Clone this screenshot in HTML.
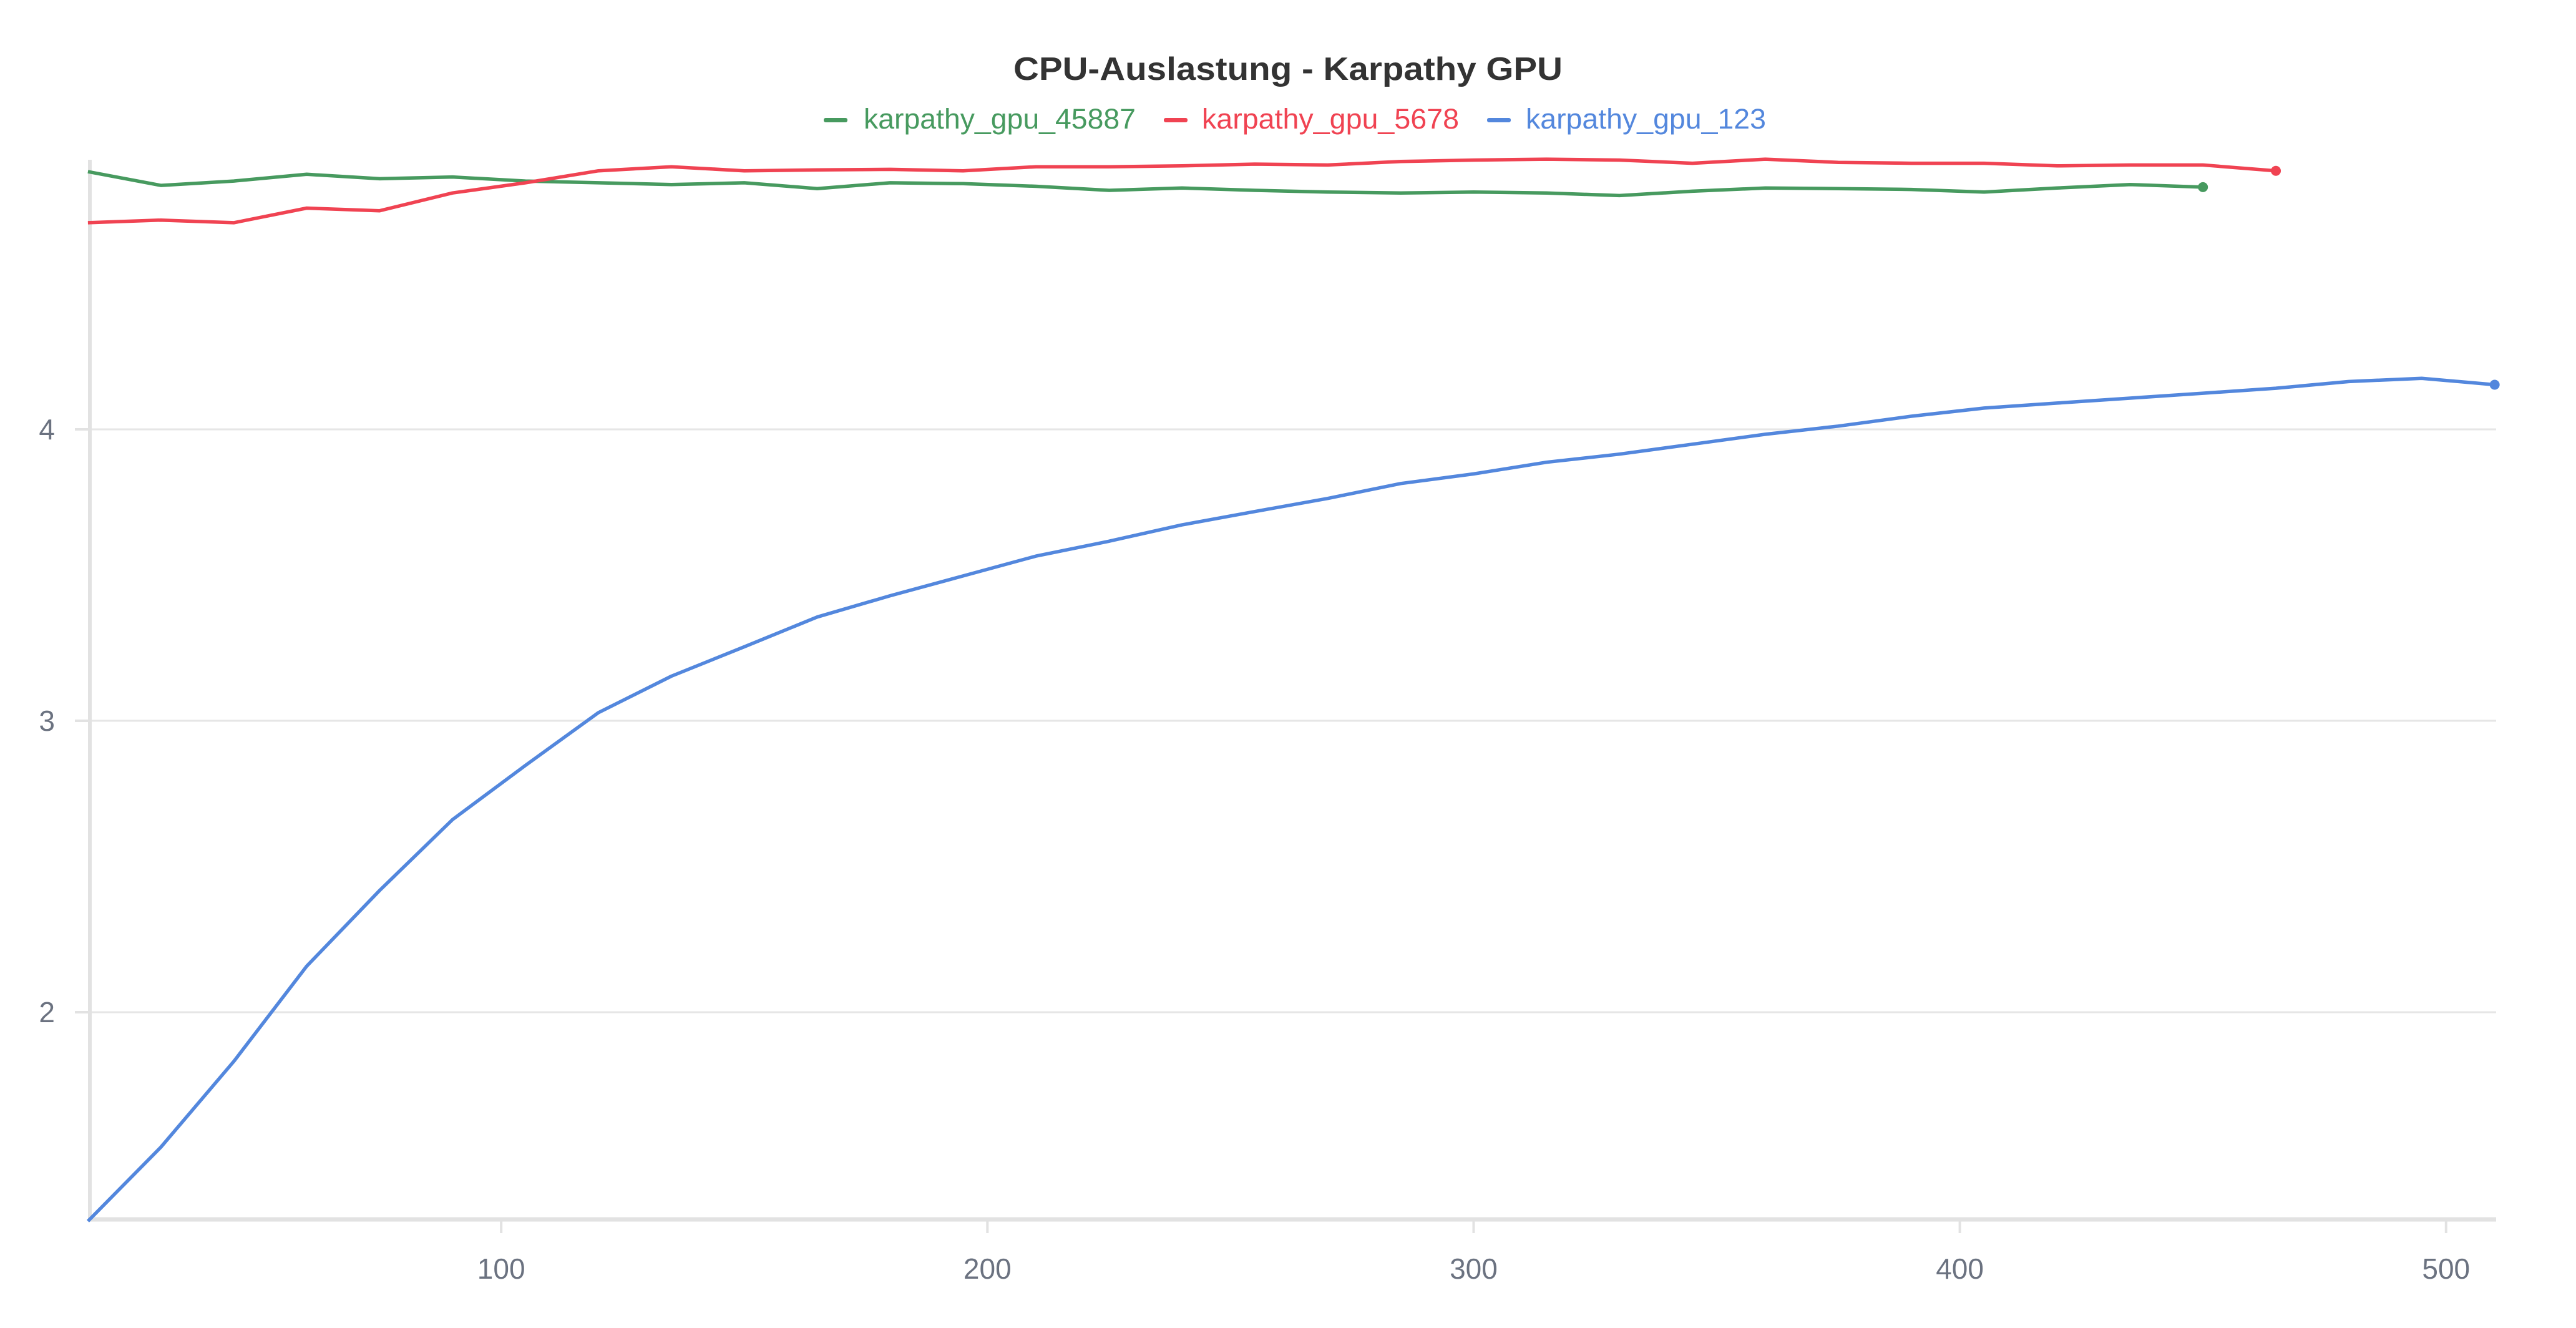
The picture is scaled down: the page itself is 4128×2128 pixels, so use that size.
<!DOCTYPE html>
<html><head><meta charset="utf-8"><style>
html,body{margin:0;padding:0;background:#fff;width:4128px;height:2128px;overflow:hidden}
svg{display:block}
</style></head><body>
<svg id="chart" width="4128" height="2128" xmlns="http://www.w3.org/2000/svg" font-family="'Liberation Sans', sans-serif">
<text x="2064" y="128" text-anchor="middle" font-size="52" font-weight="bold" fill="#333" textLength="880" lengthAdjust="spacingAndGlyphs">CPU-Auslastung - Karpathy GPU</text>
<g transform="translate(-24,0)">
<g><rect x="1344" y="189" width="38" height="7" rx="3" fill="#479a5f"/><text x="1408" y="206" font-size="45" fill="#479a5f" textLength="436" lengthAdjust="spacingAndGlyphs">karpathy_gpu_45887</text></g>
<g><rect x="1889" y="189" width="38" height="7" rx="3" fill="#f04352"/><text x="1950" y="206" font-size="45" fill="#f04352" textLength="412" lengthAdjust="spacingAndGlyphs">karpathy_gpu_5678</text></g>
<g><rect x="2407" y="189" width="38" height="7" rx="3" fill="#5387dd"/><text x="2469" y="206" font-size="45" fill="#5387dd" textLength="385" lengthAdjust="spacingAndGlyphs">karpathy_gpu_123</text></g>
</g>
<g id="grid"></g>
<g id="axes"></g>
<g id="series"></g>
</svg>
<script>
const xSteps = [15,30,45,60,75,90,105,120,135,150,165,180,195,210,225,240,255,270,285,300,315,330,345,360,375,390,405,420,435,450,465,480,495,510];
const green45887 = [4.884,4.837,4.852,4.875,4.860,4.866,4.852,4.846,4.840,4.846,4.826,4.846,4.843,4.834,4.820,4.828,4.820,4.814,4.811,4.814,4.811,4.802,4.817,4.828,4.826,4.823,4.814,4.828,4.840,4.831];
const red5678 = [4.709,4.718,4.709,4.759,4.750,4.811,4.846,4.887,4.901,4.887,4.890,4.892,4.887,4.901,4.901,4.904,4.910,4.907,4.919,4.924,4.927,4.924,4.913,4.927,4.916,4.913,4.913,4.904,4.907,4.907,4.887];
const blue123 = [1.283,1.537,1.831,2.158,2.418,2.661,2.847,3.028,3.153,3.254,3.356,3.429,3.497,3.565,3.616,3.672,3.718,3.763,3.814,3.847,3.887,3.915,3.949,3.983,4.011,4.045,4.073,4.090,4.107,4.124,4.141,4.164,4.175,4.153];
const xTicks = [100,200,300,400,500];
const yTicks = [2,3,4];

const NS = 'http://www.w3.org/2000/svg';
const L=144, R=4000, T=256, B=1954;
const xMin=15.4, xMax=510.3, yMin=1.289, yMax=4.925;
function sx(v){return L+(v-xMin)/(xMax-xMin)*(R-L);}
function sy(v){return B-(v-yMin)/(yMax-yMin)*(B-T);}
function mk(tag,attrs,parent){const e=document.createElementNS(NS,tag);for(const k in attrs)e.setAttribute(k,attrs[k]);parent.appendChild(e);return e;}
const grid=document.getElementById('grid'), axes=document.getElementById('axes'), ser=document.getElementById('series');
yTicks.forEach(v=>{
  const y=sy(v);
  const g=mk('line',{x1:L,x2:R,y1:y,y2:y,stroke:'#e6e6e6','stroke-width':3},grid);
  
  
  const t=mk('line',{x1:120,x2:L,y1:y,y2:y,stroke:'#e2e2e2','stroke-width':4},axes);
  
  
  const tx=mk('text',{x:88,y:y+16,'text-anchor':'end','font-size':46,fill:'#6b7280'},axes);
  tx.textContent=v;
  
  
});
xTicks.forEach(v=>{
  const x=sx(v);
  const t=mk('line',{x1:x,x2:x,y1:B,y2:B+22,stroke:'#e2e2e2','stroke-width':4},axes);
  
  
  const tx=mk('text',{x:x,y:2049,'text-anchor':'middle','font-size':46,fill:'#6b7280'},axes);
  tx.textContent=v;
  
  
});
const ya=mk('line',{x1:L,x2:L,y1:T,y2:B+3,stroke:'#e2e2e2','stroke-width':6},axes);


const xa=mk('line',{x1:L-3,x2:R,y1:B,y2:B,stroke:'#e2e2e2','stroke-width':7},axes);


function drawSeries(vals,color,name){
  const pts=vals.map((v,i)=>sx(xSteps[i]).toFixed(1)+','+sy(v).toFixed(1)).join(' ');
  const p=mk('polyline',{points:pts,fill:'none',stroke:color,'stroke-width':5.5,'stroke-linejoin':'round'},ser);
  
  
  const n=vals.length-1;
  const c=mk('circle',{cx:sx(xSteps[n]),cy:sy(vals[n]),r:8,fill:color},ser);
  
  
}
drawSeries(green45887,'#479a5f','karpathy-gpu-45887');
drawSeries(red5678,'#f04352','karpathy-gpu-5678');
drawSeries(blue123,'#5387dd','karpathy-gpu-123');
</script>
</body></html>
